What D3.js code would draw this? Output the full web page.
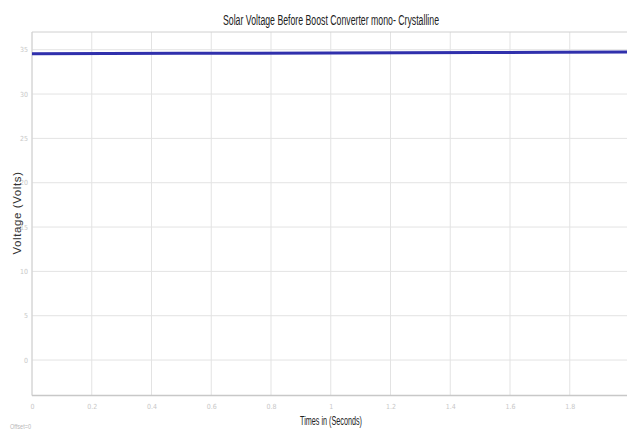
<!DOCTYPE html>
<html><head><meta charset="utf-8">
<script src="https://cdn.jsdelivr.net/npm/d3@7"></script>
<style>
html,body{margin:0;padding:0;background:#fff;}
svg{display:block;}
</style></head>
<body>
<svg id="chart" width="627" height="430"></svg>
<script>
const times = [0, 0.25, 0.5, 0.75, 1.0, 1.25, 1.5, 1.75, 2.0];
const voltage = [34.55, 34.57, 34.59, 34.61, 34.63, 34.65, 34.68, 34.71, 34.75];
const xTicks = [0, 0.2, 0.4, 0.6, 0.8, 1, 1.2, 1.4, 1.6, 1.8];
const xTickLabels = ["0", "0.2", "0.4", "0.6", "0.8", "1", "1.2", "1.4", "1.6", "1.8"];
const yTicks = [0, 5, 10, 15, 20, 25, 30, 35];
const titleText = "Solar Voltage Before Boost Converter mono- Crystalline";
const xLabel = "Times in (Seconds)";
const yLabel = "Voltage (Volts)";
const offsetText = "Offset=0";

(function () {
const svg = d3.select("#chart");
const pL = 32, pT = 32, pB = 395.5, pR = 629.5;
const x = d3.scaleLinear().domain([0, 2]).range([pL, pR]);
const y = d3.scaleLinear().domain([-4, 37]).range([pB, pT]);

const g = svg.append("g");
g.selectAll(".vg").data(xTicks).join("line")
  .attr("x1", d => x(d)).attr("x2", d => x(d))
  .attr("y1", pT).attr("y2", pB)
  .attr("stroke", "#e3e3e3").attr("stroke-width", 1);
g.selectAll(".hg").data(yTicks).join("line")
  .attr("x1", pL).attr("x2", 627)
  .attr("y1", d => y(d)).attr("y2", d => y(d))
  .attr("stroke", "#e3e3e3").attr("stroke-width", 1);

g.append("line").attr("x1", pL).attr("x2", 627).attr("y1", pT).attr("y2", pT)
  .attr("stroke", "#d0d0d0");
g.append("line").attr("x1", pL).attr("x2", pL).attr("y1", pT).attr("y2", pB)
  .attr("stroke", "#d0d0d0");
g.append("line").attr("x1", pL).attr("x2", 627).attr("y1", pB).attr("y2", pB)
  .attr("stroke", "#c8c8c8").attr("stroke-width", 1.5);

const tickFont = "'DejaVu Sans Condensed','Liberation Sans',sans-serif";
const xAxis = d3.axisBottom(x).tickValues(xTicks).tickFormat((d, i) => xTickLabels[i]).tickSize(0).tickPadding(9);
const xa = svg.append("g").attr("transform", `translate(0,${pB})`).call(xAxis);
xa.select(".domain").remove();
xa.selectAll("text").attr("fill", "#c8c8c8").attr("font-size", 7).attr("font-family", tickFont);

const yAxis = d3.axisLeft(y).tickValues(yTicks).tickSize(0).tickPadding(4);
const ya = svg.append("g").attr("transform", `translate(${pL},0)`).call(yAxis);
ya.select(".domain").remove();
ya.selectAll("text").attr("fill", "#c8c8c8").attr("font-size", 7).attr("font-family", tickFont);

svg.append("clipPath").attr("id", "clip").append("rect")
  .attr("x", pL).attr("y", pT).attr("width", 627 - pL).attr("height", pB - pT);
const data = times.map((t, i) => ({t, v: voltage[i]}));
svg.append("path").datum(data)
  .attr("clip-path", "url(#clip)")
  .attr("fill", "none").attr("stroke", "#3030ac").attr("stroke-width", 3)
  .attr("d", d3.line().x(d => x(d.t)).y(d => y(d.v)));

const fam = "'Liberation Sans',Arial,sans-serif";
svg.append("text").attr("x", 331).attr("y", 25).attr("text-anchor", "middle")
  .attr("font-family", fam).attr("font-size", 14).attr("fill", "#222")
  .attr("textLength", 216).attr("lengthAdjust", "spacingAndGlyphs").text(titleText);

svg.append("text").attr("x", 331).attr("y", 425).attr("text-anchor", "middle")
  .attr("font-family", fam).attr("font-size", 12.5).attr("fill", "#222")
  .attr("textLength", 62).attr("lengthAdjust", "spacingAndGlyphs").text(xLabel);

svg.append("text").attr("transform", "translate(21,213) rotate(-90)").attr("text-anchor", "middle")
  .attr("font-family", fam)
  .attr("font-size", 11.5).attr("fill", "#333").attr("letter-spacing", 0.6).text(yLabel);

svg.append("text").attr("x", 10).attr("y", 429)
  .attr("font-family", fam).attr("font-size", 6.5).attr("fill", "#b8b8b8")
  .attr("textLength", 21).attr("lengthAdjust", "spacingAndGlyphs").text(offsetText);
})();
</script>
</body></html>
